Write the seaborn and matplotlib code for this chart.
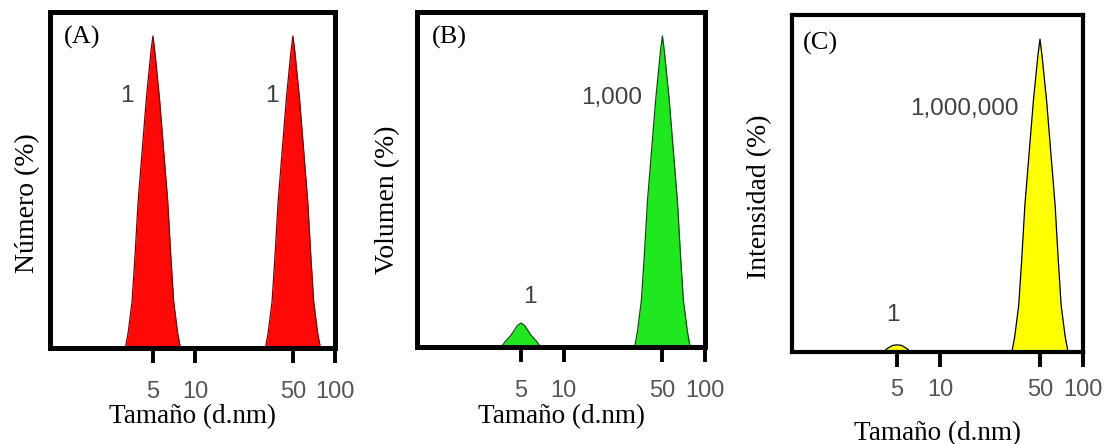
import matplotlib
matplotlib.use("Agg")
import matplotlib.pyplot as plt
import seaborn as sns
import pandas as pd

# --- Size distributions (d.nm) for a 1:1 mixture (by number) of 5 nm and 50 nm particles ---
# (A) Number distribution
numero_size_5 = [3.18, 3.33, 3.55, 3.73, 3.92, 4.49, 4.84, 5.0, 5.16, 5.57, 6.38, 6.70, 7.03, 7.50, 7.86]
numero_pct_5 = [0, 0.65, 1.95, 3.9, 6.1, 10.4, 12.35, 13.0, 12.35, 10.4, 6.1, 3.9, 1.95, 0.65, 0]
numero_size_50 = [31.8, 33.3, 35.5, 37.3, 39.2, 44.9, 48.4, 50.0, 51.6, 55.7, 63.8, 67.0, 70.3, 75.0, 78.6]
numero_pct_50 = [0, 0.65, 1.95, 3.9, 6.1, 10.4, 12.35, 13.0, 12.35, 10.4, 6.1, 3.9, 1.95, 0.65, 0]

# (B) Volume distribution
volumen_size_5 = [3.62, 3.90, 4.26, 4.72, 5.0, 5.30, 5.87, 6.41, 6.90]
volumen_pct_5 = [0, 0.25, 0.5, 0.9, 1.0, 0.9, 0.5, 0.25, 0]
volumen_size_50 = [31.8, 33.3, 35.5, 37.3, 39.2, 44.9, 48.4, 50.0, 51.6, 55.7, 63.8, 67.0, 70.3, 75.0, 78.6]
volumen_pct_50 = [0, 0.65, 1.95, 3.9, 6.1, 10.4, 12.35, 13.0, 12.35, 10.4, 6.1, 3.9, 1.95, 0.65, 0]

# (C) Intensity distribution
intensidad_size_5 = [3.97, 4.35, 4.67, 5.0, 5.36, 5.74, 6.29]
intensidad_pct_5 = [0, 0.18, 0.28, 0.3, 0.28, 0.18, 0]
intensidad_size_50 = [31.8, 33.3, 35.5, 37.3, 39.2, 44.9, 48.4, 50.0, 51.6, 55.7, 63.8, 67.0, 70.3, 75.0, 78.6]
intensidad_pct_50 = [0, 0.65, 1.95, 3.9, 6.1, 10.4, 12.35, 13.0, 12.35, 10.4, 6.1, 3.9, 1.95, 0.65, 0]

# Relative amounts written next to each peak
labels_a = ["1", "1"]
labels_b = ["1", "1,000"]
labels_c = ["1", "1,000,000"]

panel_tags = ["(A)", "(B)", "(C)"]
y_titles = ["Número (%)", "Volumen (%)", "Intensidad (%)"]
x_title = "Tamaño (d.nm)"
x_ticks = [5, 10, 50, 100]
x_ticklabels = ["5", "10", "50", "100"]

sns.set_theme(style="white")
plt.rcParams["font.family"] = ["Liberation Sans", "DejaVu Sans"]

SERIF = ["Liberation Serif", "DejaVu Serif"]
SANS = ["Liberation Sans", "DejaVu Sans"]

fig = plt.figure(figsize=(11.18, 4.44), dpi=100)
fig.patch.set_facecolor("white")

positions = [
    [0.0447, 0.216, 0.2550, 0.757],
    [0.3730, 0.2185, 0.2576, 0.7545],
    [0.7084, 0.207, 0.2603, 0.759],
]

panels = [
    dict(peaks=[(numero_size_5, numero_pct_5), (numero_size_50, numero_pct_50)],
         fill="#ff0808", edge="#7a0000", labels=labels_a,
         label_pos=[(3.27, 10.5), (35.5, 10.5)], spine=3.6, tickpad=12.5, xpad=1,
         ylab_xy=(-0.036, 0.43)),
    dict(peaks=[(volumen_size_5, volumen_pct_5), (volumen_size_50, volumen_pct_50)],
         fill="#1fe81f", edge="#0b4d0b", labels=labels_b,
         label_pos=[(5.8, 2.1), (22.0, 10.4)], spine=3.6, tickpad=12.5, xpad=1.5,
         ylab_xy=(-0.059, 0.44)),
    dict(peaks=[(intensidad_size_5, intensidad_pct_5), (intensidad_size_50, intensidad_pct_50)],
         fill="#ffff00", edge="#000000", labels=labels_c,
         label_pos=[(4.68, 1.55), (14.9, 10.1)], spine=3.0, tickpad=8.5, xpad=14,
         ylab_xy=(-0.069, 0.46)),
]

for i, (pos, p) in enumerate(zip(positions, panels)):
    ax = fig.add_axes(pos)
    for sizes, pct in p["peaks"]:
        df = pd.DataFrame({"size": sizes, "pct": pct})
        ax.fill_between(df["size"], 0, df["pct"], color=p["fill"], lw=0, zorder=1)
        sns.lineplot(data=df, x="size", y="pct", ax=ax, color=p["edge"], lw=0.9,
                     estimator=None, sort=False, zorder=2)

    ax.set_xscale("log")
    ax.set_xlim(0.92, 100)
    ax.set_ylim(0, 14)
    ax.set_xticks(x_ticks)
    ax.set_xticks([], minor=True)
    ax.set_xticklabels(x_ticklabels, fontfamily=SANS, fontsize=17, color="#555555")
    ax.set_yticks([])
    ax.tick_params(axis="x", which="major", direction="out", length=11, width=2.8,
                   color="black", pad=p["tickpad"], bottom=True)
    for sp in ax.spines.values():
        sp.set_visible(True)
        sp.set_color("black")
        sp.set_linewidth(p["spine"])
    ax.set_xlabel(x_title, fontfamily=SERIF, fontsize=19.5, color="black", labelpad=p["xpad"])
    ax.set_ylabel(y_titles[i], fontfamily=SERIF, fontsize=20, color="black")
    ax.yaxis.set_label_coords(*p["ylab_xy"])

    for txt, (xx, yy) in zip(p["labels"], p["label_pos"]):
        ax.text(xx, yy, txt, ha="center", va="center", fontfamily=SANS,
                fontsize=17.5, color="#404040")

    ax.text(0.05 if i < 2 else 0.038, 0.925 if i < 2 else 0.917, panel_tags[i],
            transform=ax.transAxes, ha="left", va="center",
            fontfamily=SERIF, fontsize=19, color="black")

fig.savefig("out.png", dpi=100, facecolor="white")
